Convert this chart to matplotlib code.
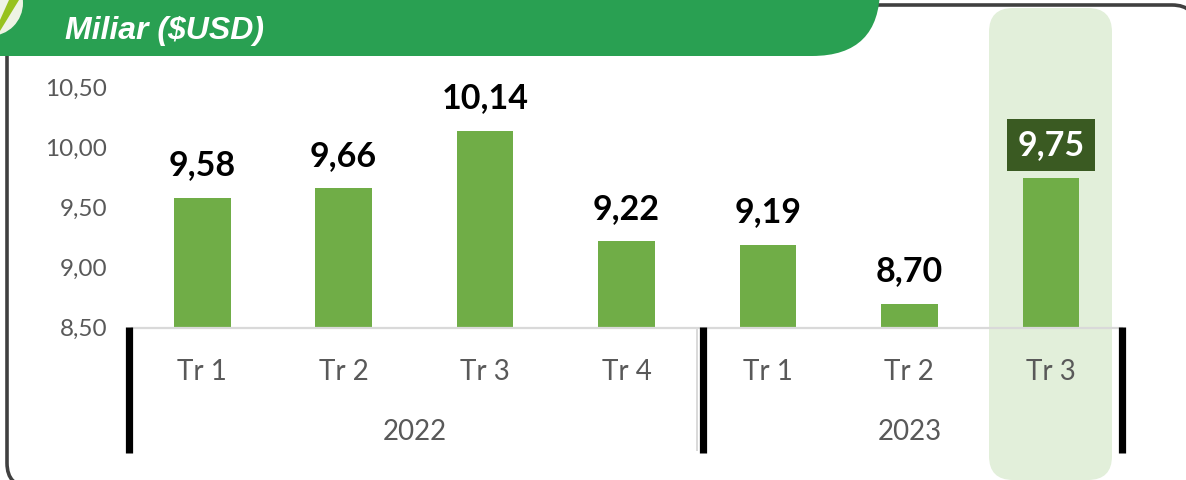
import matplotlib
matplotlib.use("Agg")
import matplotlib.pyplot as plt
from matplotlib.patches import FancyBboxPatch, Circle, Polygon
from matplotlib.ticker import FixedLocator, FixedFormatter

quarters = ["Tr 1", "Tr 2", "Tr 3", "Tr 4", "Tr 1", "Tr 2", "Tr 3"]
values = [9.58, 9.66, 10.14, 9.22, 9.19, 8.70, 9.75]
years = ["2022", "2023"]
year_groups = [[0, 1, 2, 3], [4, 5, 6]]
y_ticks = [8.5, 9.0, 9.5, 10.0, 10.5]
title = "Miliar ($USD)"
highlight_index = 6

W, H = 1186, 480
fig = plt.figure(figsize=(W / 100, H / 100), dpi=100, facecolor="white")
FONT = ["Lato", "DejaVu Sans"]

# Decoration layer in pixel coordinates
bg = fig.add_axes([0, 0, 1, 1], zorder=0)
bg.set_xlim(0, W); bg.set_ylim(H, 0); bg.axis("off")

def rbox(x0, y0, x1, y1, r, **kw):
    p = FancyBboxPatch((x0 + r, y0 + r), x1 - x0 - 2 * r, y1 - y0 - 2 * r,
                       boxstyle=f"round,pad={r},rounding_size={r}", **kw)
    bg.add_patch(p)
    return p

rbox(7, 5, 1196, 487, 24, fc="white", ec="#404040", lw=2.6, zorder=1)
rbox(989, 8, 1112, 480, 24, fc="#E2EFDA", ec="none", zorder=2)
rbox(-90, -90, 880, 56, 68, fc="#29A052", ec="none", zorder=3)
bg.add_patch(Circle((-10, 3), 33, fc="#EEF3E4", ec="none", zorder=4))
bg.add_patch(Polygon([[0, 31], [0, 20], [9, 0], [19, 0]], closed=True, fc="#97C21E", ec="none", zorder=5))
bg.text(65, 31.5, title, color="white", fontsize=23, fontstyle="italic", fontweight="bold",
        family="Liberation Sans", ha="left", va="center", zorder=6)

# Chart axes: 8.5 at y=327 px, 10.5 at y=87 px
ax = fig.add_axes([131.5 / W, 1 - 327.6 / H, 990 / W, 240 / H], zorder=2)
ax.patch.set_alpha(0)
xs = list(range(len(values)))
ax.bar(xs, values, width=0.4, color="#70AD47", bottom=0, zorder=2)
ax.set_xlim(-0.5, len(values) - 0.5)
ax.set_ylim(y_ticks[0], y_ticks[-1])
for s in ["top", "right", "left"]:
    ax.spines[s].set_visible(False)
ax.spines["bottom"].set_color("#D9D9D9")
ax.spines["bottom"].set_linewidth(1.6)
ax.yaxis.set_major_locator(FixedLocator(y_ticks))
ax.yaxis.set_major_formatter(FixedFormatter([f"{v:.2f}".replace(".", ",") for v in y_ticks]))
ax.set_xticks(xs)
ax.set_xticklabels(quarters)
ax.tick_params(axis="y", length=0, pad=17.5, labelsize=17.5, labelcolor="#595959")
ax.tick_params(axis="x", length=0, pad=22.5, labelsize=20, labelcolor="#595959")
for t in ax.get_xticklabels() + ax.get_yticklabels():
    t.set_family(FONT)

for i, v in enumerate(values):
    txt = f"{v:.2f}".replace(".", ",")
    hi = i == highlight_index
    ax.annotate(txt, (i, v), xytext=(0, 23.5), textcoords="offset points", ha="center", va="center",
                fontsize=24.5, fontweight="bold", family=FONT,
                color="white" if hi else "black", zorder=5,
                bbox=dict(boxstyle="square,pad=0.3", fc="#3A5A22", ec="none") if hi else None)

year_trans = ax.get_xaxis_transform()
for label, grp in zip(years, year_groups):
    ax.annotate(label, (sum(grp) / len(grp), 0), xycoords=year_trans, xytext=(0, -75.5),
                textcoords="offset points", ha="center", va="center",
                fontsize=20, color="#595959", family=FONT, annotation_clip=False)

# Multi-level axis dividers
fg = fig.add_axes([0, 0, 1, 1], zorder=3)
fg.set_xlim(0, W); fg.set_ylim(H, 0); fg.axis("off")
fg.plot([697, 697], [328, 451], color="#D9D9D9", lw=1.4, solid_capstyle="butt")
for x in [129, 703, 1122]:
    fg.plot([x, x], [327, 452.5], color="black", lw=5.2, solid_capstyle="butt")

fig.savefig("out.png", dpi=100, facecolor="white")
